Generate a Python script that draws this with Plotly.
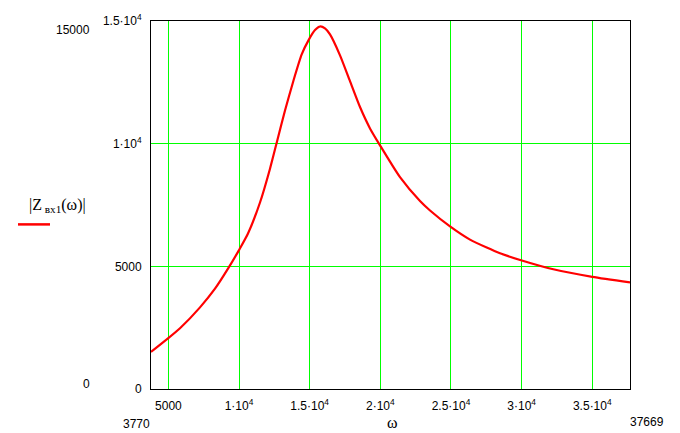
import plotly.graph_objects as go

omega = [3770, 4973, 5822, 7238, 8299, 9219, 9998, 10635, 11484, 12192, 12666,
         13253, 13840, 14435, 14952, 15376, 15730, 16084, 16438, 17146, 17853,
         18561, 19269, 19977, 21392, 22808, 23516, 24931, 26346, 27528, 28469,
         29955, 32242, 35002, 37669]
z_abs = [1512, 2063, 2476, 3327, 4087, 4904, 5662, 6337, 7602, 8980, 10039,
         11352, 12546, 13636, 14250, 14630, 14777, 14696, 14453, 13601, 12547,
         11493, 10622, 9932, 8635, 7662, 7277, 6628, 6089, 5765, 5534,
         5250, 4880, 4570, 4345]

x_ticks = [5000, 10000, 15000, 20000, 25000, 30000, 35000]
x_ticktext = ["5000", "1·10<sup>4</sup>", "1.5·10<sup>4</sup>", "2·10<sup>4</sup>",
              "2.5·10<sup>4</sup>", "3·10<sup>4</sup>", "3.5·10<sup>4</sup>"]
y_ticks = [0, 5000, 10000, 15000]
y_ticktext = ["0", "5000", "1·10<sup>4</sup>", "1.5·10<sup>4</sup>"]
x_min, x_max = 3770, 37669
y_min, y_max = 0, 15000

W, H = 680, 433
L, R, T, B = 151, 50, 19, 44
pw, ph = W - L - R, H - T - B

def px(xp):
    return (xp - L) / pw

def py(yp):
    return (H - B - yp) / ph

tick_font = dict(family="Liberation Sans, Arial, sans-serif", size=12, color="black")
serif = dict(family="Liberation Serif, Times New Roman, serif", size=16, color="black")

fig = go.Figure()
fig.add_trace(go.Scatter(x=omega, y=z_abs, mode="lines",
                         line=dict(color="#ff0000", width=2.2, shape="spline", smoothing=0.6),
                         showlegend=False, hoverinfo="skip"))

fig.update_layout(
    width=W, height=H,
    margin=dict(l=L, r=R, t=T, b=B),
    paper_bgcolor="white", plot_bgcolor="white",
    xaxis=dict(range=[x_min, x_max], tickvals=x_ticks, ticktext=x_ticktext,
               showgrid=True, gridcolor="#00ff00", gridwidth=1, zeroline=False,
               showline=True, linecolor="black", linewidth=1, mirror=True,
               ticks="", tickfont=tick_font, ticklabelstandoff=6),
    yaxis=dict(range=[y_min, y_max], tickvals=y_ticks, ticktext=y_ticktext,
               showgrid=True, gridcolor="#00ff00", gridwidth=1, zeroline=False,
               showline=True, linecolor="black", linewidth=1, mirror=True,
               ticks="", tickfont=tick_font, ticklabelstandoff=6),
)

ann = [
    dict(text=str(y_max), x=px(92), y=py(28), xanchor="right", yanchor="middle", font=tick_font),
    dict(text=str(y_min), x=px(92), y=py(384), xanchor="right", yanchor="middle", font=tick_font),
    dict(text=str(x_min), x=px(152), y=py(424), xanchor="right", yanchor="middle", font=tick_font),
    dict(text=str(x_max), x=px(628), y=py(422), xanchor="left", yanchor="middle", font=tick_font),
    dict(text="ω", x=px(392), y=py(423), xanchor="center", yanchor="middle", font=serif),
    dict(text="|Z<sub> вх1</sub>(ω)|", x=px(57), y=py(205), xanchor="center", yanchor="middle",
         font=serif),
]
for a in ann:
    a.update(xref="paper", yref="paper", showarrow=False)
    fig.add_annotation(**a)

fig.add_shape(type="line", xref="paper", yref="paper",
              x0=px(18), x1=px(50), y0=py(223.5), y1=py(223.5),
              line=dict(color="#ff0000", width=2.5))

fig.write_html("out.html", config={"displayModeBar": False},
               post_script="document.body.style.margin='0';document.body.style.overflow='hidden';")
